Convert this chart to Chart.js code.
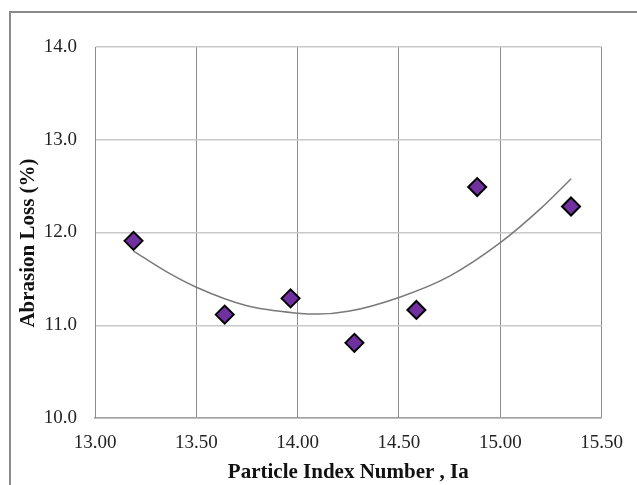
<!DOCTYPE html>
<html>
<head>
<meta charset="utf-8">
<script src="https://cdn.jsdelivr.net/npm/chart.js@4"></script>
<style>
  html, body { margin: 0; padding: 0; background: #fff; }
  #wrap { width: 637px; height: 485px; }
</style>
</head>
<body>
<div id="wrap"><canvas id="abrasionChart" width="637" height="485"></canvas></div>
<script>
// Measured points
const particleIndex = [13.19, 13.64, 13.965, 14.28, 14.586, 14.886, 15.349];
const abrasionLoss = [11.91, 11.115, 11.29, 10.81, 11.165, 12.49, 12.28];

// Trend line
const trendX = [13.19, 13.35, 13.5, 13.75, 14.0, 14.1, 14.25, 14.5, 14.75, 15.0, 15.2, 15.35];
const trendY = [11.80, 11.58, 11.41, 11.21, 11.13, 11.12, 11.15, 11.30, 11.53, 11.89, 12.26, 12.58];

// Axis ranges / ticks
const xTicks = [13.0, 13.5, 14.0, 14.5, 15.0, 15.5];
const yTicks = [10.0, 11.0, 12.0, 13.0, 14.0];

const xTitle = 'Particle Index Number , Ia';
const yTitle = 'Abrasion Loss (%)    '; // trailing spaces push it down a bit like the original

// outer frame like the original picture
const framePlugin = {
    id: 'frame',
    beforeDraw(chart) {
        const ctx = chart.ctx;
        ctx.save();
        ctx.strokeStyle = '#8a8a8a';
        ctx.lineWidth = 2;
        ctx.beginPath();
        ctx.moveTo(10, chart.height + 5);
        ctx.lineTo(10, 12);
        ctx.lineTo(chart.width + 5, 12);
        ctx.stroke();
        ctx.restore();
    }
};

new Chart(document.getElementById('abrasionChart'), {
    type: 'scatter',
    data: {
        datasets: [{
            label: 'Abrasion Loss',
            data: particleIndex.map((x, i) => ({ x: x, y: abrasionLoss[i] })),
            pointStyle: 'rectRot',
            pointRadius: 9,
            pointHoverRadius: 9,
            backgroundColor: '#7030a0',
            borderColor: '#000000',
            borderWidth: 2,
            order: 1
        }, {
            label: 'Trend',
            data: trendX.map((x, i) => ({ x: x, y: trendY[i] })),
            showLine: true,
            pointRadius: 0,
            borderColor: '#7a7a7a',
            borderWidth: 1.5,
            cubicInterpolationMode: 'monotone',
            order: 2
        }]
    },
    options: {
        responsive: false,
        animation: false,
        layout: { padding: { top: 47, right: 32, bottom: 0, left: 0 } },
        plugins: {
            legend: { display: false },
            tooltip: { enabled: false }
        },
        scales: {
            x: {
                type: 'linear',
                min: xTicks[0],
                max: xTicks[xTicks.length - 1],
                afterBuildTicks: s => { s.ticks = xTicks.map(v => ({ value: v })); },
                afterFit: s => { s.height = 67; },
                ticks: {
                    callback: v => v.toFixed(2),
                    color: '#222',
                    padding: 14,
                    maxRotation: 0,
                    font: { family: 'Liberation Serif', size: 19 }
                },
                grid: { color: '#8c8c8c', lineWidth: 1, drawTicks: false },
                border: { color: '#a0a0a0', width: 1.5 },
                title: {
                    display: true,
                    text: xTitle,
                    color: '#111',
                    padding: { top: 0, bottom: 0 },
                    font: { family: 'Liberation Serif', size: 21, weight: 'bold' }
                }
            },
            y: {
                type: 'linear',
                min: yTicks[0],
                max: yTicks[yTicks.length - 1],
                afterBuildTicks: s => { s.ticks = yTicks.map(v => ({ value: v })); },
                afterFit: s => { s.width = 95; },
                ticks: {
                    callback: v => v.toFixed(1),
                    color: '#222',
                    padding: 18,
                    font: { family: 'Liberation Serif', size: 19 }
                },
                grid: { color: '#c8c8c8', lineWidth: 1.5, drawTicks: false },
                border: { color: '#8c8c8c', width: 1 },
                title: {
                    display: true,
                    text: yTitle,
                    color: '#111',
                    padding: { top: 16, bottom: 0 },
                    font: { family: 'Liberation Serif', size: 21, weight: 'bold' }
                }
            }
        }
    },
    plugins: [framePlugin]
});
</script>
</body>
</html>
